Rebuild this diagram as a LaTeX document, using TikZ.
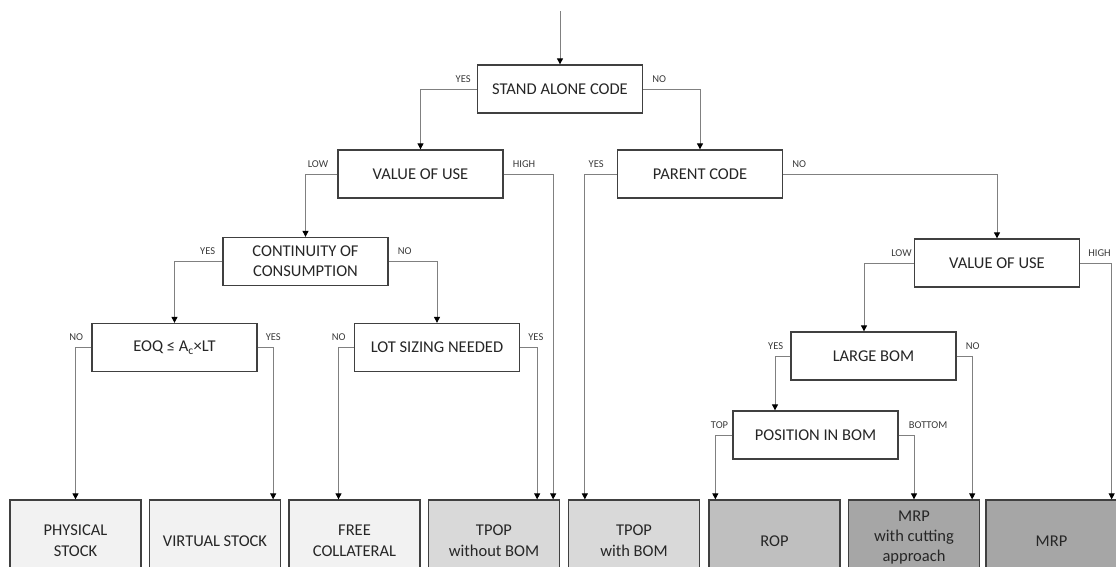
\documentclass[tikz,border=0pt]{standalone}
\usepackage{fontspec}
\setmainfont{Carlito}
\usetikzlibrary{arrows.meta}

\definecolor{boxline}{HTML}{404040}
\definecolor{wirecol}{HTML}{808080}
\definecolor{txt}{HTML}{262626}
\definecolor{lbltxt}{HTML}{3A3A3A}
\definecolor{fillA}{HTML}{F2F2F2}
\definecolor{fillB}{HTML}{D9D9D9}
\definecolor{fillC}{HTML}{BFBFBF}
\definecolor{fillD}{HTML}{A6A6A6}

\begin{document}
\begin{tikzpicture}[x=1pt,y=-1pt,
  test/.style={draw=boxline, line width=1.3pt, fill=white,
    minimum width=165pt, minimum height=48pt, inner sep=2pt,
    align=center, text=txt, font=\fontsize{16.5}{20}\selectfont},
  outcome/.style={draw=boxline, line width=1.3pt,
    minimum width=131pt, minimum height=82pt, inner sep=2pt,
    align=center, text=txt, font=\fontsize{16.5}{21}\selectfont},
  wire/.style={draw=wirecol, line width=0.9pt,
    -{Triangle[length=6pt,width=6pt,color=black,fill=black]}},
  lbl/.style={inner sep=0pt, text=lbltxt, font=\fontsize{10.5}{12}\selectfont},
  lblL/.style={lbl, anchor=base east},
  lblR/.style={lbl, anchor=base west}
]
\useasboundingbox (0,0) rectangle (1116,566);
\clip (0,0) rectangle (1116,566);

% entry point
\coordinate (start) at (560,11);

% decision boxes
\node[test] (sac) at (560,89)    {STAND ALONE CODE};
\node[test] (vl)  at (420.5,174) {VALUE OF USE};
\node[test] (pc)  at (700,174)   {PARENT CODE};
\node[test] (cc)  at (305.5,261.5) {CONTINUITY OF\\CONSUMPTION};
\node[test] (vr)  at (997,263)   {VALUE OF USE};
\node[test] (eoq) at (174.5,347.5) {EOQ ≤ A\textsubscript{c}×LT};
\node[test] (lot) at (437,347.5) {LOT SIZING NEEDED};
\node[test] (lb)  at (873.5,356) {LARGE BOM};
\node[test] (pib) at (815.5,435) {POSITION IN BOM};

% outcomes
\node[outcome, fill=fillA] (b1) at (75.5,541)   {PHYSICAL\\STOCK};
\node[outcome, fill=fillA] (b2) at (215,541)    {VIRTUAL STOCK};
\node[outcome, fill=fillA] (b3) at (354.5,541)  {FREE\\COLLATERAL};
\node[outcome, fill=fillB] (b4) at (494,541)    {TPOP\\without BOM};
\node[outcome, fill=fillB] (b5) at (634,541)    {TPOP\\with BOM};
\node[outcome, fill=fillC] (b6) at (774.5,541)  {ROP};
\node[outcome, fill=fillD] (b7) at (914,541)    {};
\node[text=txt, align=center, inner sep=0pt,
      font=\fontsize{16.5}{20}\selectfont] (b7t) at (914,538)
      {MRP\\with cutting\\approach};
\node[outcome, fill=fillD] (b8) at (1051.5,541) {MRP};

% connectors
\draw[wire] (start) -- (sac.north);
\draw[wire] (sac.west) -| (vl.north);
\draw[wire] (sac.east) -| (pc.north);
\draw[wire] (vl.west) -| (cc.north);
\draw[wire] (vl.east) -| ([xshift=-7pt]b4.north east);
\draw[wire] (pc.west) -| ([xshift=17pt]b5.north west);
\draw[wire] (pc.east) -| (vr.north);
\draw[wire] (cc.west) -| (eoq.north);
\draw[wire] (cc.east) -| (lot.north);
\draw[wire] (eoq.west) -| (b1.north);
\draw[wire] (eoq.east) -| ([xshift=-8pt]b2.north east);
\draw[wire] (lot.west) -| ([xshift=-16pt]b3.north);
\draw[wire] (lot.east) -| ([xshift=-23pt]b4.north east);
\draw[wire] (vr.west) -| ([xshift=-9.5pt]lb.north);
\draw[wire] (vr.east) -| ([xshift=-6pt]b8.north east);
\draw[wire] (lb.west) -| ([xshift=-40.5pt]pib.north);
\draw[wire] (lb.east) -| ([xshift=-8pt]b7.north east);
\draw[wire] (pib.west) -| ([xshift=7pt]b6.north west);
\draw[wire] (pib.east) -| (b7.north);

% branch labels
\node[lblL] (l1)  at ([xshift=-6pt,yshift=7pt]sac.west) {YES};
\node[lblR] (l2)  at ([xshift=9pt,yshift=7pt]sac.east)  {NO};
\node[lblL] (l3)  at ([xshift=-9pt,yshift=7pt]vl.west)  {LOW};
\node[lblR] (l4)  at ([xshift=9pt,yshift=7pt]vl.east)   {HIGH};
\node[lblL] (l5)  at ([xshift=-13pt,yshift=7pt]pc.west) {YES};
\node[lblR] (l6)  at ([xshift=9pt,yshift=7pt]pc.east)   {NO};
\node[lblL] (l7)  at ([xshift=-7pt,yshift=7pt]cc.west)  {YES};
\node[lblR] (l8)  at ([xshift=9pt,yshift=7pt]cc.east)   {NO};
\node[lblL] (l9)  at ([xshift=-2pt,yshift=7pt]vr.west)  {LOW};
\node[lblR] (l10) at ([xshift=8pt,yshift=7pt]vr.east)   {HIGH};
\node[lblL] (l11) at ([xshift=-8pt,yshift=7pt]eoq.west) {NO};
\node[lblR] (l12) at ([xshift=8pt,yshift=7pt]eoq.east)  {YES};
\node[lblL] (l13) at ([xshift=-8pt,yshift=7pt]lot.west) {NO};
\node[lblR] (l14) at ([xshift=8pt,yshift=7pt]lot.east)  {YES};
\node[lblL] (l15) at ([xshift=-7pt,yshift=7pt]lb.west)  {YES};
\node[lblR] (l16) at ([xshift=9pt,yshift=7pt]lb.east)   {NO};
\node[lblL] (l17) at ([xshift=-4pt,yshift=7pt]pib.west) {TOP};
\node[lblR] (l18) at ([xshift=10pt,yshift=7pt]pib.east) {BOTTOM};
\end{tikzpicture}
\end{document}
